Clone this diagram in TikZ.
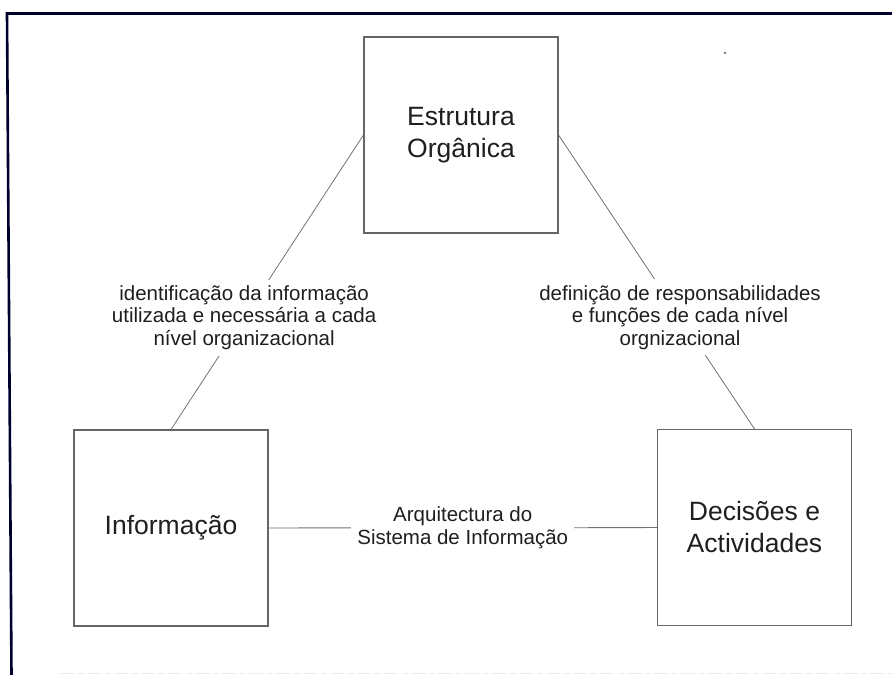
\documentclass[tikz,border=0pt]{standalone}
\usepackage{fontspec}
\setmainfont{Liberation Sans}
\begin{document}
\begin{tikzpicture}[x=1pt,y=-1pt,
  box/.style={draw=black!60,line width=1.1pt,minimum width=194pt,minimum height=196pt,inner sep=0pt,align=center,text=black!88,font=\fontsize{26.5}{32}\selectfont},
  lab/.style={fill=white,align=center,inner sep=6pt,text=black!88,font=\fontsize{20.5}{22.5}\selectfont},
  conn/.style={draw=black!55,line width=0.8pt},
  frame/.style={draw=black!70!blue!60!black,line width=2.6pt}]
\useasboundingbox (0,0) rectangle (892,675);
\fill[white] (0,0) rectangle (892,675);
% frame
\draw[frame] (892,13.5) -- (7,13.5) -- (11.5,675);
\draw[black!8,line width=1pt,dash pattern=on 14pt off 4pt on 6pt off 3pt] (60,673) -- (892,673);
\fill[black!50] (725,53) circle (1.3pt);
% boxes
\node[box] (es) at (461,135) {Estrutura\\Orgânica};
\node[box] (inf) at (171,528) {Informação};
\node[box] (dec) at (754.5,527.5) {Decisões e\\Actividades};
% connectors
\draw[conn] (es.west) -- node[lab,pos=0.62] {identificação da informação\\utilizada e necessária a cada\\nível organizacional} (inf.north);
\draw[conn] (es.east) -- node[lab,pos=0.62] {definição de responsabilidades\\e funções de cada nível\\orgnizacional} (dec.north);
\draw[conn] (inf) -- node[lab] {Arquitectura do\\Sistema de Informação} (dec);
\end{tikzpicture}
\end{document}
